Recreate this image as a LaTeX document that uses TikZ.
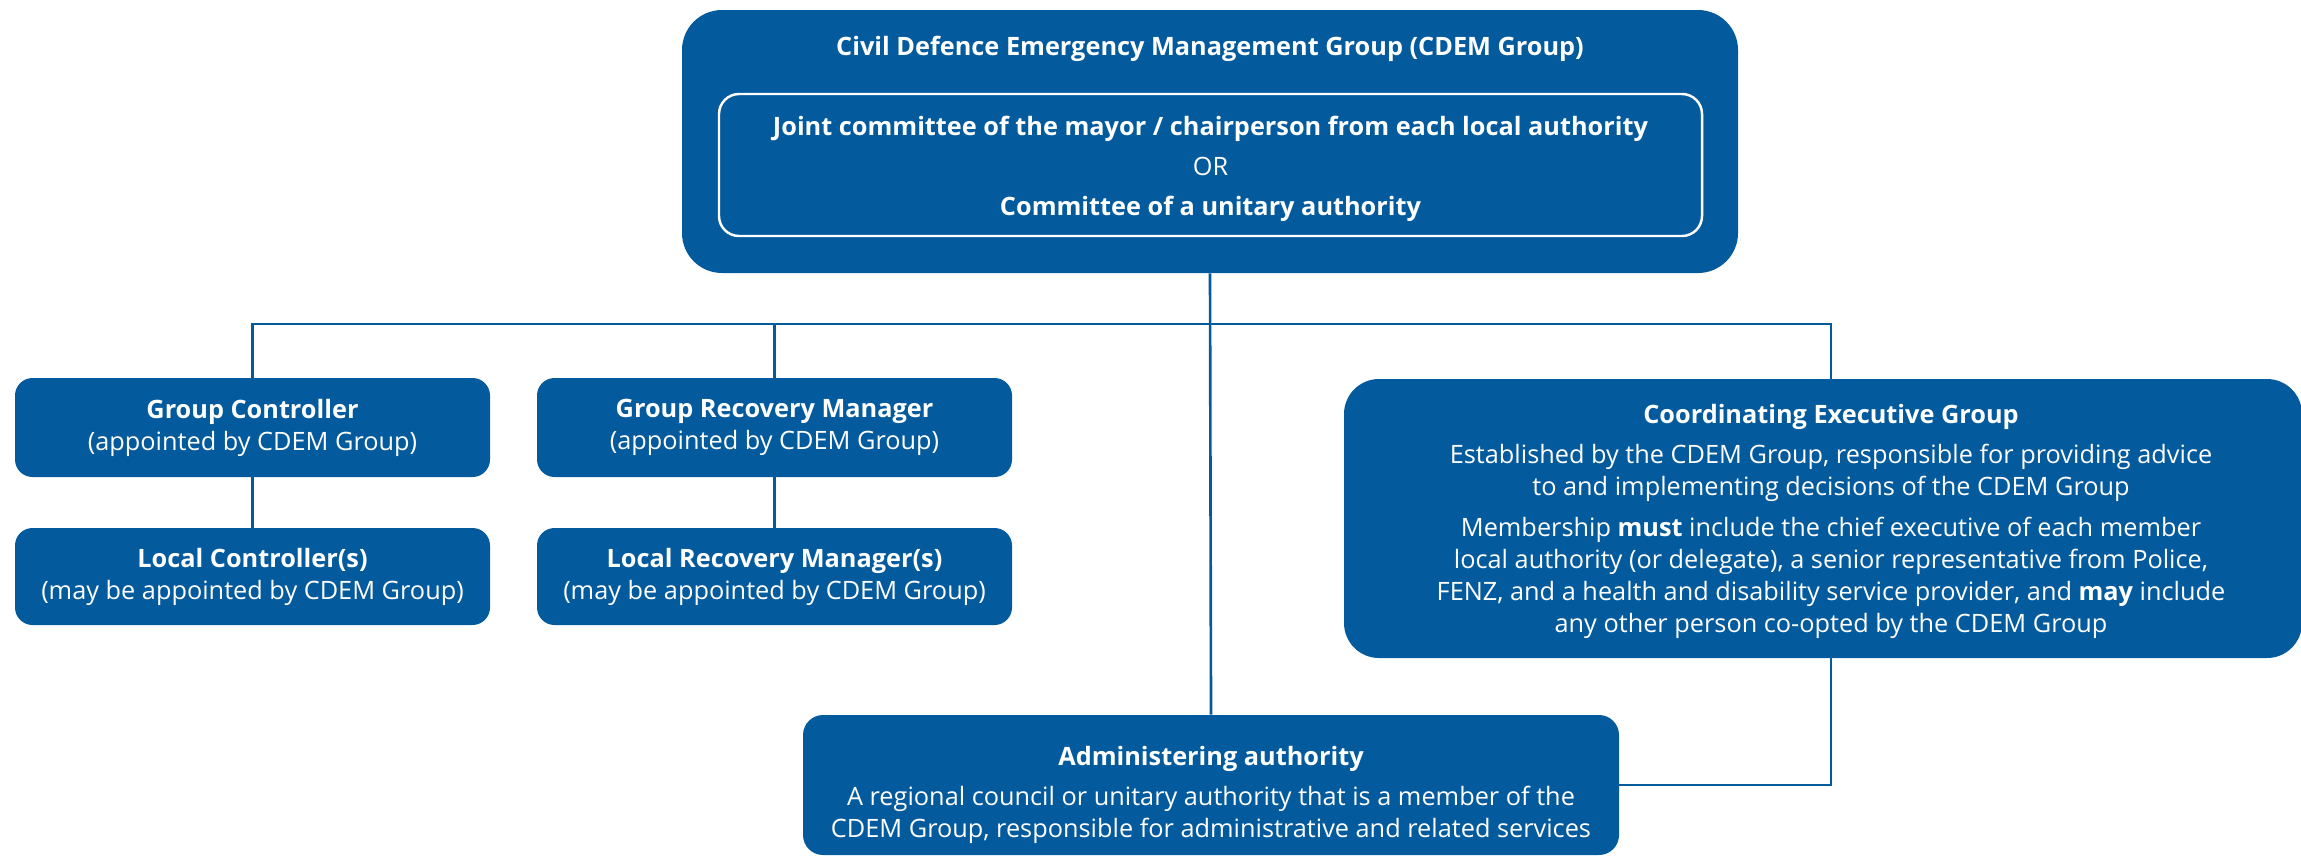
\documentclass[tikz,border=0pt]{standalone}
\usepackage{fontspec}
\setmainfont{Open Sans}
\definecolor{cdemblue}{RGB}{3,90,157}
\tikzset{
  orgbox/.style={fill=cdemblue, text=white, align=center, rounded corners=0.35cm, inner sep=0pt},
  orgtext/.style={text=white, align=center, inner sep=0pt},
  link/.style={draw=cdemblue, line width=1.5pt},
}
\begin{document}
\begin{tikzpicture}[font=\fontsize{14.4}{18.2}\selectfont]
\useasboundingbox (0,0) rectangle (46.02,-17.16);
% CDEM Group at the top
\node [orgbox, rounded corners=0.8cm, minimum width=21.12cm, minimum height=5.26cm] (cdem) at (24.2,-2.83) {};
\node [orgtext, font=\fontsize{14.4}{18.2}\selectfont\bfseries] (cdemtitle) at (24.2,-0.98) {Civil Defence Emergency Management Group (CDEM Group)};
\node [orgbox, draw=white, line width=1.4pt, rounded corners=0.4cm, minimum width=19.66cm, minimum height=2.84cm] (joint) at (24.21,-3.3) {};
\node [orgtext, font=\fontsize{14.4}{22.8}\selectfont] (jointtext) at (24.21,-3.38)
  {\textbf{Joint committee of the mayor / chairperson from each local authority}\\OR\\\textbf{Committee of a unitary authority}};
% controllers and recovery managers
\node [orgbox, minimum width=9.5cm, minimum height=1.98cm] (gc) at (5.05,-8.55)
  {\textbf{Group Controller}\\(appointed by CDEM Group)};
\node [orgbox, minimum width=9.5cm, minimum height=1.98cm] (grm) at (15.49,-8.55)
  {\textbf{Group Recovery Manager}\\(appointed by CDEM Group)};
\node [orgbox, minimum width=9.5cm, minimum height=1.94cm] (lc) at (5.05,-11.53)
  {\textbf{Local Controller(s)}\\(may be appointed by CDEM Group)};
\node [orgbox, minimum width=9.5cm, minimum height=1.94cm] (lrm) at (15.49,-11.53)
  {\textbf{Local Recovery Manager(s)}\\(may be appointed by CDEM Group)};
% coordinating executive group
\node [orgbox, rounded corners=0.7cm, minimum width=19.16cm, minimum height=5.58cm] (ceg) at (36.46,-10.37) {};
\node [orgtext] (cegtext) at (36.62,-10.42)
  {\textbf{Coordinating Executive Group}\\[4.6pt]
   Established by the CDEM Group, responsible for providing advice\\
   to and implementing decisions of the CDEM Group\\[5.1pt]
   Membership \textbf{must} include the chief executive of each member\\
   local authority (or delegate), a senior representative from Police,\\
   FENZ, and a health and disability service provider, and \textbf{may} include\\
   any other person co-opted by the CDEM Group};
% administering authority
\node [orgbox, rounded corners=0.4cm, minimum width=16.32cm, minimum height=2.8cm] (admin) at (24.22,-15.7) {};
\node [orgtext] (admintext) at (24.22,-15.9)
  {\textbf{Administering authority}\\[4.6pt]
   A regional council or unitary authority that is a member of the\\
   CDEM Group, responsible for administrative and related services};
% connectors
\coordinate (bus) at (24.22,-6.48);
\draw [link] (cdem.south) -- (admin.north);
\draw [link] (gc.north) |- (bus) -| (cegtext |- ceg.north);
\draw [link] (grm.north) -- (grm.north |- bus);
\draw [link] (gc.south) -- (lc.north);
\draw [link] (grm.south) -- (lrm.north);
\draw [link] (cegtext |- ceg.south) |- (admin.east);
\end{tikzpicture}
\end{document}
